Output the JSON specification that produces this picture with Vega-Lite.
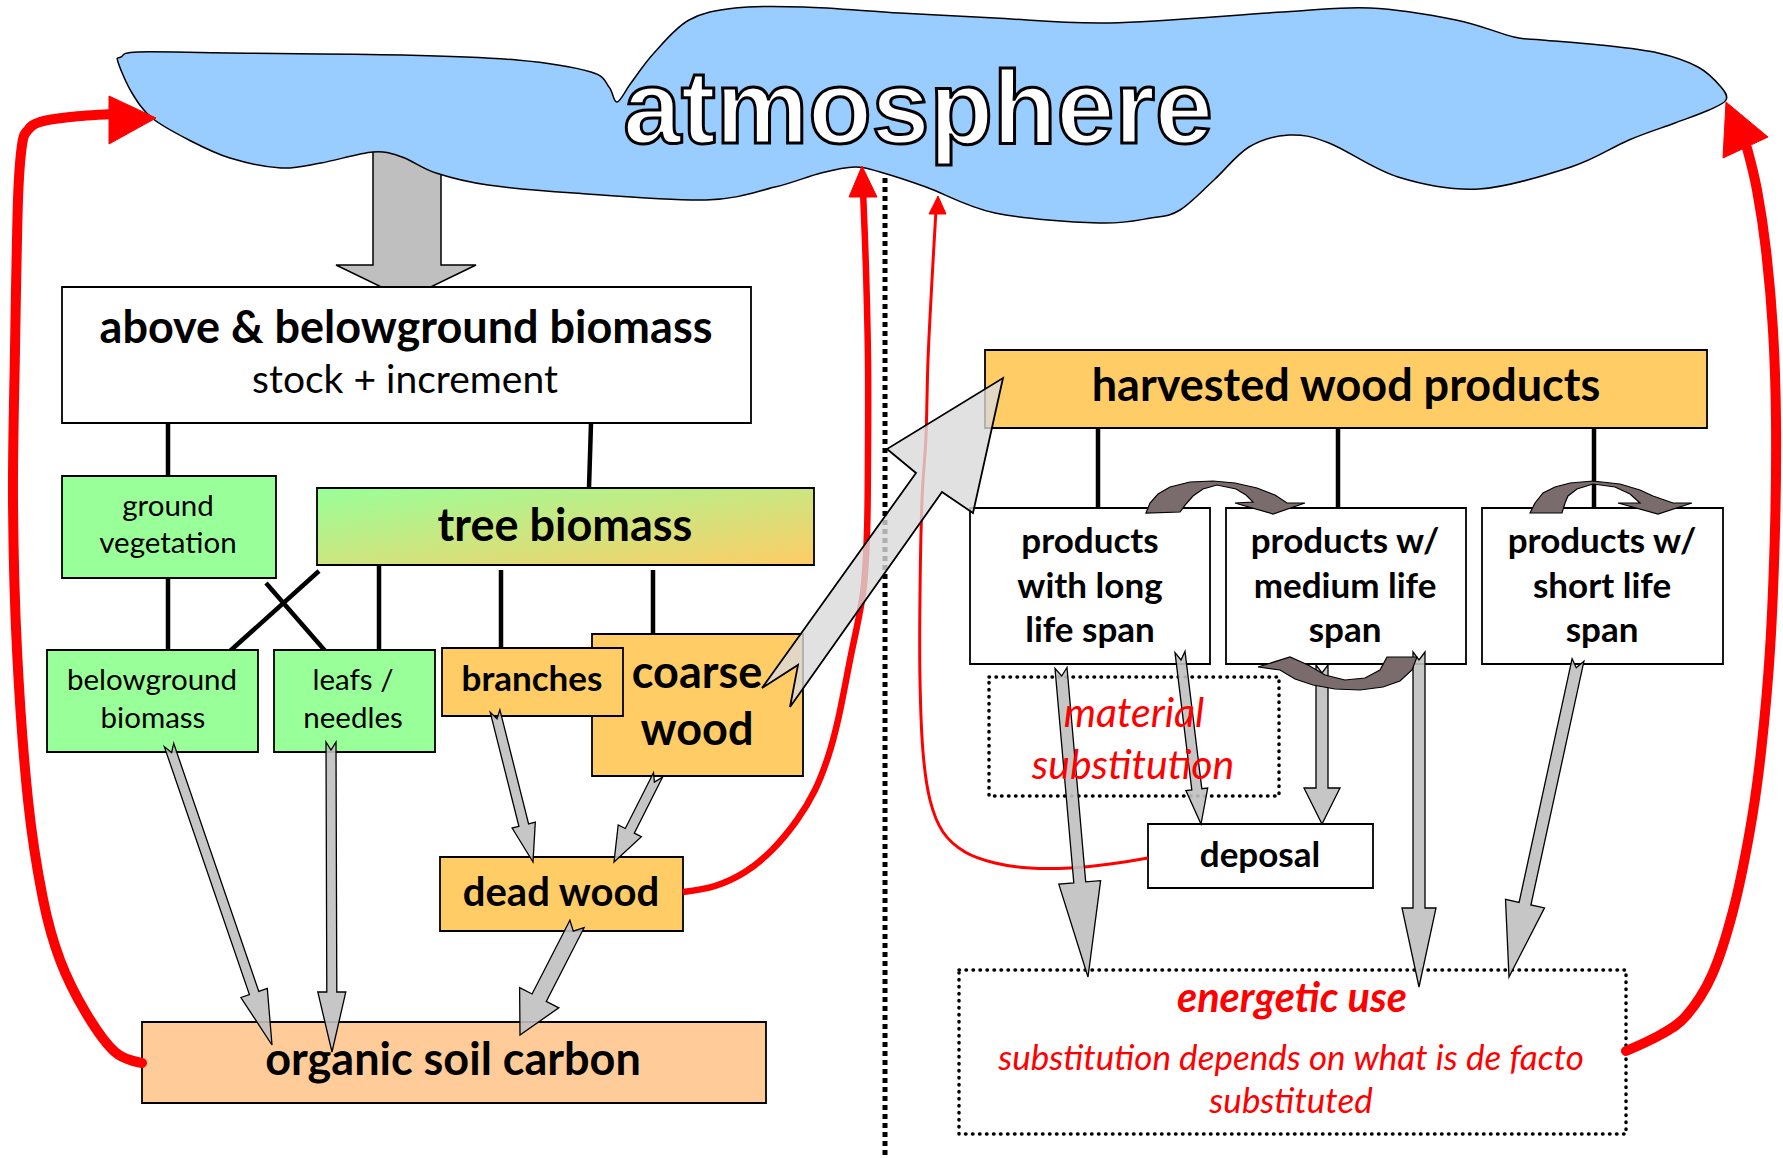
{
  "$schema": "https://vega.github.io/schema/vega-lite/v6.json",
  "width": 1783,
  "height": 1158,
  "autosize": "none",
  "padding": 0,
  "background": "white",
  "config": {"view": {"stroke": null}},
  "datasets": {
    "shapes": [
      {"id":"cloud","kind":"cloud","o":1,"x":118,"y":62},{"id":"cloud","kind":"cloud","o":2,"x":121,"y":57},{"id":"cloud","kind":"cloud","o":3,"x":138,"y":52},{"id":"cloud","kind":"cloud","o":4,"x":230,"y":53},{"id":"cloud","kind":"cloud","o":5,"x":402,"y":55},{"id":"cloud","kind":"cloud","o":6,"x":517,"y":60},{"id":"cloud","kind":"cloud","o":7,"x":591,"y":72},{"id":"cloud","kind":"cloud","o":8,"x":609,"y":87},{"id":"cloud","kind":"cloud","o":9,"x":617,"y":102},{"id":"cloud","kind":"cloud","o":10,"x":631,"y":83},{"id":"cloud","kind":"cloud","o":11,"x":654,"y":53},{"id":"cloud","kind":"cloud","o":12,"x":689,"y":20},{"id":"cloud","kind":"cloud","o":13,"x":735,"y":8},{"id":"cloud","kind":"cloud","o":14,"x":804,"y":7},{"id":"cloud","kind":"cloud","o":15,"x":900,"y":13},{"id":"cloud","kind":"cloud","o":16,"x":995,"y":18},{"id":"cloud","kind":"cloud","o":17,"x":1110,"y":23},{"id":"cloud","kind":"cloud","o":18,"x":1283,"y":12},{"id":"cloud","kind":"cloud","o":19,"x":1370,"y":8},{"id":"cloud","kind":"cloud","o":20,"x":1456,"y":20},{"id":"cloud","kind":"cloud","o":21,"x":1514,"y":37},{"id":"cloud","kind":"cloud","o":22,"x":1542,"y":40},{"id":"cloud","kind":"cloud","o":23,"x":1600,"y":45},{"id":"cloud","kind":"cloud","o":24,"x":1658,"y":53},{"id":"cloud","kind":"cloud","o":25,"x":1698,"y":67},{"id":"cloud","kind":"cloud","o":26,"x":1721,"y":87},{"id":"cloud","kind":"cloud","o":27,"x":1726,"y":100},{"id":"cloud","kind":"cloud","o":28,"x":1709,"y":110},{"id":"cloud","kind":"cloud","o":29,"x":1675,"y":123},{"id":"cloud","kind":"cloud","o":30,"x":1629,"y":140},{"id":"cloud","kind":"cloud","o":31,"x":1571,"y":167},{"id":"cloud","kind":"cloud","o":32,"x":1479,"y":189},{"id":"cloud","kind":"cloud","o":33,"x":1398,"y":177},{"id":"cloud","kind":"cloud","o":34,"x":1329,"y":143},{"id":"cloud","kind":"cloud","o":35,"x":1289,"y":135},{"id":"cloud","kind":"cloud","o":36,"x":1249,"y":147},{"id":"cloud","kind":"cloud","o":37,"x":1214,"y":180},{"id":"cloud","kind":"cloud","o":38,"x":1180,"y":210},{"id":"cloud","kind":"cloud","o":39,"x":1151,"y":218},{"id":"cloud","kind":"cloud","o":40,"x":1099,"y":223},{"id":"cloud","kind":"cloud","o":41,"x":995,"y":213},{"id":"cloud","kind":"cloud","o":42,"x":926,"y":187},{"id":"cloud","kind":"cloud","o":43,"x":880,"y":172},{"id":"cloud","kind":"cloud","o":44,"x":855,"y":167},{"id":"cloud","kind":"cloud","o":45,"x":821,"y":173},{"id":"cloud","kind":"cloud","o":46,"x":775,"y":187},{"id":"cloud","kind":"cloud","o":47,"x":706,"y":200},{"id":"cloud","kind":"cloud","o":48,"x":574,"y":193},{"id":"cloud","kind":"cloud","o":49,"x":488,"y":185},{"id":"cloud","kind":"cloud","o":50,"x":436,"y":173},{"id":"cloud","kind":"cloud","o":51,"x":402,"y":157},{"id":"cloud","kind":"cloud","o":52,"x":373,"y":152},{"id":"cloud","kind":"cloud","o":53,"x":321,"y":163},{"id":"cloud","kind":"cloud","o":54,"x":281,"y":168},{"id":"cloud","kind":"cloud","o":55,"x":230,"y":158},{"id":"cloud","kind":"cloud","o":56,"x":189,"y":140},{"id":"cloud","kind":"cloud","o":57,"x":152,"y":118},{"id":"cloud","kind":"cloud","o":58,"x":132,"y":93},

      {"id":"down","kind":"down","o":1,"x":373,"y":140},{"id":"down","kind":"down","o":2,"x":441,"y":140},{"id":"down","kind":"down","o":3,"x":441,"y":265},{"id":"down","kind":"down","o":4,"x":476,"y":265},{"id":"down","kind":"down","o":5,"x":406,"y":299},{"id":"down","kind":"down","o":6,"x":336,"y":265},{"id":"down","kind":"down","o":7,"x":373,"y":265},

      {"id":"a1","kind":"gray","o":1,"x":164.3,"y":746.6},{"id":"a1","kind":"gray","o":2,"x":249.4,"y":994.6},{"id":"a1","kind":"gray","o":3,"x":240.9,"y":997.5},{"id":"a1","kind":"gray","o":4,"x":272,"y":1045},{"id":"a1","kind":"gray","o":5,"x":267.3,"y":988.5},{"id":"a1","kind":"gray","o":6,"x":258.8,"y":991.4},{"id":"a1","kind":"gray","o":7,"x":173.7,"y":743.4},{"id":"a1","kind":"gray","o":8,"x":171.6,"y":752.6},
      {"id":"a2","kind":"gray","o":1,"x":326,"y":742},{"id":"a2","kind":"gray","o":2,"x":326.8,"y":992},{"id":"a2","kind":"gray","o":3,"x":317.8,"y":992},{"id":"a2","kind":"gray","o":4,"x":332,"y":1052},{"id":"a2","kind":"gray","o":5,"x":345.8,"y":992},{"id":"a2","kind":"gray","o":6,"x":336.8,"y":992},{"id":"a2","kind":"gray","o":7,"x":336,"y":742},{"id":"a2","kind":"gray","o":8,"x":331,"y":750},
      {"id":"a3","kind":"gray","o":1,"x":490.2,"y":712.2},{"id":"a3","kind":"gray","o":2,"x":518.9,"y":826.3},{"id":"a3","kind":"gray","o":3,"x":512.1,"y":828},{"id":"a3","kind":"gray","o":4,"x":533,"y":862},{"id":"a3","kind":"gray","o":5,"x":535.3,"y":822.2},{"id":"a3","kind":"gray","o":6,"x":528.6,"y":823.9},{"id":"a3","kind":"gray","o":7,"x":499.9,"y":709.8},{"id":"a3","kind":"gray","o":8,"x":497,"y":718.8},
      {"id":"a4","kind":"gray","o":1,"x":653.5,"y":772.7},{"id":"a4","kind":"gray","o":2,"x":625.3,"y":828.5},{"id":"a4","kind":"gray","o":3,"x":618.2,"y":824.9},{"id":"a4","kind":"gray","o":4,"x":614,"y":862},{"id":"a4","kind":"gray","o":5,"x":641.4,"y":836.7},{"id":"a4","kind":"gray","o":6,"x":634.3,"y":833.1},{"id":"a4","kind":"gray","o":7,"x":662.5,"y":777.3},{"id":"a4","kind":"gray","o":8,"x":654.4,"y":782.1},
      {"id":"a5","kind":"gray","o":1,"x":569.9,"y":920.3},{"id":"a5","kind":"gray","o":2,"x":532.1,"y":994},{"id":"a5","kind":"gray","o":3,"x":519.6,"y":987.6},{"id":"a5","kind":"gray","o":4,"x":520,"y":1035},{"id":"a5","kind":"gray","o":5,"x":558.8,"y":1007.8},{"id":"a5","kind":"gray","o":6,"x":546.3,"y":1001.4},{"id":"a5","kind":"gray","o":7,"x":584.1,"y":927.7},{"id":"a5","kind":"gray","o":8,"x":573.3,"y":931.1},
      {"id":"a6","kind":"gray","o":1,"x":1055,"y":668.5},{"id":"a6","kind":"gray","o":2,"x":1073.8,"y":882.9},{"id":"a6","kind":"gray","o":3,"x":1058.8,"y":884.2},{"id":"a6","kind":"gray","o":4,"x":1088,"y":977},{"id":"a6","kind":"gray","o":5,"x":1100.6,"y":880.6},{"id":"a6","kind":"gray","o":6,"x":1085.7,"y":881.9},{"id":"a6","kind":"gray","o":7,"x":1067,"y":667.5},{"id":"a6","kind":"gray","o":8,"x":1061.7,"y":676},
      {"id":"a7","kind":"gray","o":1,"x":1175,"y":652.6},{"id":"a7","kind":"gray","o":2,"x":1191.8,"y":789.9},{"id":"a7","kind":"gray","o":3,"x":1185.9,"y":790.6},{"id":"a7","kind":"gray","o":4,"x":1201,"y":824},{"id":"a7","kind":"gray","o":5,"x":1207.7,"y":788},{"id":"a7","kind":"gray","o":6,"x":1201.8,"y":788.7},{"id":"a7","kind":"gray","o":7,"x":1185,"y":651.4},{"id":"a7","kind":"gray","o":8,"x":1181,"y":660},
      {"id":"a8","kind":"gray","o":1,"x":1316,"y":665},{"id":"a8","kind":"gray","o":2,"x":1316,"y":788},{"id":"a8","kind":"gray","o":3,"x":1304,"y":788},{"id":"a8","kind":"gray","o":4,"x":1322,"y":824},{"id":"a8","kind":"gray","o":5,"x":1340,"y":788},{"id":"a8","kind":"gray","o":6,"x":1328,"y":788},{"id":"a8","kind":"gray","o":7,"x":1328,"y":665},{"id":"a8","kind":"gray","o":8,"x":1322,"y":673},
      {"id":"a9","kind":"gray","o":1,"x":1413,"y":652},{"id":"a9","kind":"gray","o":2,"x":1413,"y":908},{"id":"a9","kind":"gray","o":3,"x":1402,"y":908},{"id":"a9","kind":"gray","o":4,"x":1419,"y":987},{"id":"a9","kind":"gray","o":5,"x":1436,"y":908},{"id":"a9","kind":"gray","o":6,"x":1425,"y":908},{"id":"a9","kind":"gray","o":7,"x":1425,"y":652},{"id":"a9","kind":"gray","o":8,"x":1419,"y":660},
      {"id":"a10","kind":"gray","o":1,"x":1572.1,"y":658.7},{"id":"a10","kind":"gray","o":2,"x":1519.1,"y":902.4},{"id":"a10","kind":"gray","o":3,"x":1505.5,"y":899.4},{"id":"a10","kind":"gray","o":4,"x":1509,"y":977},{"id":"a10","kind":"gray","o":5,"x":1544.5,"y":907.9},{"id":"a10","kind":"gray","o":6,"x":1530.9,"y":905},{"id":"a10","kind":"gray","o":7,"x":1583.9,"y":661.3},{"id":"a10","kind":"gray","o":8,"x":1576.3,"y":667.8},

      {"id":"big","kind":"big","o":1,"x":762,"y":688},{"id":"big","kind":"big","o":2,"x":916,"y":473},{"id":"big","kind":"big","o":3,"x":887,"y":449},{"id":"big","kind":"big","o":4,"x":1003,"y":378},{"id":"big","kind":"big","o":5,"x":973,"y":513},{"id":"big","kind":"big","o":6,"x":942,"y":492},{"id":"big","kind":"big","o":7,"x":790,"y":707},{"id":"big","kind":"big","o":8,"x":798,"y":665},

      {"id":"c1","kind":"curve","o":1,"x":1146,"y":513},{"id":"c1","kind":"curve","o":2,"x":1150,"y":503},{"id":"c1","kind":"curve","o":3,"x":1158,"y":494},{"id":"c1","kind":"curve","o":4,"x":1170,"y":487},{"id":"c1","kind":"curve","o":5,"x":1190,"y":482},{"id":"c1","kind":"curve","o":6,"x":1213,"y":481},{"id":"c1","kind":"curve","o":7,"x":1235,"y":483},{"id":"c1","kind":"curve","o":8,"x":1257,"y":488},{"id":"c1","kind":"curve","o":9,"x":1275,"y":495},{"id":"c1","kind":"curve","o":10,"x":1287,"y":503},{"id":"c1","kind":"curve","o":11,"x":1305,"y":503},{"id":"c1","kind":"curve","o":12,"x":1273,"y":514},{"id":"c1","kind":"curve","o":13,"x":1235,"y":503},{"id":"c1","kind":"curve","o":14,"x":1253,"y":502},{"id":"c1","kind":"curve","o":15,"x":1246,"y":495},{"id":"c1","kind":"curve","o":16,"x":1236,"y":489},{"id":"c1","kind":"curve","o":17,"x":1217,"y":485},{"id":"c1","kind":"curve","o":18,"x":1203,"y":489},{"id":"c1","kind":"curve","o":19,"x":1193,"y":496},{"id":"c1","kind":"curve","o":20,"x":1186,"y":504},{"id":"c1","kind":"curve","o":21,"x":1180,"y":512},
      {"id":"c2","kind":"curve","o":1,"x":1530,"y":513},{"id":"c2","kind":"curve","o":2,"x":1535,"y":503},{"id":"c2","kind":"curve","o":3,"x":1543,"y":493},{"id":"c2","kind":"curve","o":4,"x":1555,"y":487},{"id":"c2","kind":"curve","o":5,"x":1570,"y":483},{"id":"c2","kind":"curve","o":6,"x":1593,"y":481},{"id":"c2","kind":"curve","o":7,"x":1620,"y":484},{"id":"c2","kind":"curve","o":8,"x":1640,"y":490},{"id":"c2","kind":"curve","o":9,"x":1653,"y":496},{"id":"c2","kind":"curve","o":10,"x":1673,"y":503},{"id":"c2","kind":"curve","o":11,"x":1692,"y":503},{"id":"c2","kind":"curve","o":12,"x":1658,"y":514},{"id":"c2","kind":"curve","o":13,"x":1618,"y":503},{"id":"c2","kind":"curve","o":14,"x":1640,"y":503},{"id":"c2","kind":"curve","o":15,"x":1630,"y":494},{"id":"c2","kind":"curve","o":16,"x":1615,"y":487},{"id":"c2","kind":"curve","o":17,"x":1593,"y":484},{"id":"c2","kind":"curve","o":18,"x":1577,"y":489},{"id":"c2","kind":"curve","o":19,"x":1568,"y":496},{"id":"c2","kind":"curve","o":20,"x":1565,"y":503},{"id":"c2","kind":"curve","o":21,"x":1562,"y":513},
      {"id":"c3","kind":"curve","o":1,"x":1417,"y":657},{"id":"c3","kind":"curve","o":2,"x":1412,"y":670},{"id":"c3","kind":"curve","o":3,"x":1400,"y":681},{"id":"c3","kind":"curve","o":4,"x":1383,"y":687},{"id":"c3","kind":"curve","o":5,"x":1360,"y":690},{"id":"c3","kind":"curve","o":6,"x":1335,"y":689},{"id":"c3","kind":"curve","o":7,"x":1313,"y":685},{"id":"c3","kind":"curve","o":8,"x":1295,"y":679},{"id":"c3","kind":"curve","o":9,"x":1280,"y":670},{"id":"c3","kind":"curve","o":10,"x":1258,"y":667},{"id":"c3","kind":"curve","o":11,"x":1290,"y":657},{"id":"c3","kind":"curve","o":12,"x":1308,"y":665},{"id":"c3","kind":"curve","o":13,"x":1325,"y":675},{"id":"c3","kind":"curve","o":14,"x":1345,"y":680},{"id":"c3","kind":"curve","o":15,"x":1365,"y":678},{"id":"c3","kind":"curve","o":16,"x":1380,"y":670},{"id":"c3","kind":"curve","o":17,"x":1387,"y":657},

      {"id":"LH","kind":"redhead","o":1,"x":109,"y":96},{"id":"LH","kind":"redhead","o":2,"x":156,"y":118},{"id":"LH","kind":"redhead","o":3,"x":109,"y":144},
      {"id":"RH","kind":"redhead","o":1,"x":1726,"y":102},{"id":"RH","kind":"redhead","o":2,"x":1768,"y":137},{"id":"RH","kind":"redhead","o":3,"x":1723,"y":158},
      {"id":"MH","kind":"redhead","o":1,"x":862,"y":166},{"id":"MH","kind":"redhead","o":2,"x":877,"y":197},{"id":"MH","kind":"redhead","o":3,"x":849,"y":197},
      {"id":"TH","kind":"redhead","o":1,"x":938,"y":196},{"id":"TH","kind":"redhead","o":2,"x":946,"y":214},{"id":"TH","kind":"redhead","o":3,"x":929,"y":214}
    ],
    "red": [
      {"id":"L","o":1,"x":142,"y":1063},{"id":"L","o":2,"x":115,"y":1052},{"id":"L","o":3,"x":86,"y":1013},{"id":"L","o":4,"x":60,"y":960},{"id":"L","o":5,"x":43,"y":899},{"id":"L","o":6,"x":28,"y":800},{"id":"L","o":7,"x":17,"y":650},{"id":"L","o":8,"x":13,"y":500},{"id":"L","o":9,"x":15,"y":350},{"id":"L","o":10,"x":18,"y":200},{"id":"L","o":11,"x":22,"y":145},{"id":"L","o":12,"x":28,"y":130},{"id":"L","o":13,"x":40,"y":122},{"id":"L","o":14,"x":70,"y":117},{"id":"L","o":15,"x":112,"y":114},
      {"id":"R","o":1,"x":1626,"y":1051},{"id":"R","o":2,"x":1660,"y":1035},{"id":"R","o":3,"x":1686,"y":1016},{"id":"R","o":4,"x":1712,"y":975},{"id":"R","o":5,"x":1733,"y":911},{"id":"R","o":6,"x":1750,"y":830},{"id":"R","o":7,"x":1761,"y":752},{"id":"R","o":8,"x":1770,"y":650},{"id":"R","o":9,"x":1775,"y":530},{"id":"R","o":10,"x":1776,"y":420},{"id":"R","o":11,"x":1773,"y":330},{"id":"R","o":12,"x":1766,"y":250},{"id":"R","o":13,"x":1757,"y":190},{"id":"R","o":14,"x":1747,"y":148},
      {"id":"M","o":1,"x":683,"y":892},{"id":"M","o":2,"x":715,"y":886},{"id":"M","o":3,"x":745,"y":872},{"id":"M","o":4,"x":772,"y":850},{"id":"M","o":5,"x":797,"y":820},{"id":"M","o":6,"x":815,"y":790},{"id":"M","o":7,"x":828,"y":757},{"id":"M","o":8,"x":838,"y":720},{"id":"M","o":9,"x":850,"y":660},{"id":"M","o":10,"x":863,"y":593},{"id":"M","o":11,"x":867,"y":533},{"id":"M","o":12,"x":868,"y":450},{"id":"M","o":13,"x":868,"y":360},{"id":"M","o":14,"x":866,"y":270},{"id":"M","o":15,"x":863,"y":190},
      {"id":"T","o":1,"x":1148,"y":858},{"id":"T","o":2,"x":1110,"y":864},{"id":"T","o":3,"x":1070,"y":868},{"id":"T","o":4,"x":1030,"y":868},{"id":"T","o":5,"x":995,"y":863},{"id":"T","o":6,"x":965,"y":852},{"id":"T","o":7,"x":943,"y":832},{"id":"T","o":8,"x":930,"y":800},{"id":"T","o":9,"x":923,"y":752},{"id":"T","o":10,"x":920,"y":680},{"id":"T","o":11,"x":920,"y":594},{"id":"T","o":12,"x":922,"y":500},{"id":"T","o":13,"x":926,"y":436},{"id":"T","o":14,"x":928,"y":360},{"id":"T","o":15,"x":932,"y":280},{"id":"T","o":16,"x":936,"y":210}
    ],
    "boxes": [
      {"name":"above","kind":"white","x":62,"x2":751,"y":287,"y2":423},
      {"name":"ground","kind":"green","x":62,"x2":276,"y":476,"y2":578},
      {"name":"below","kind":"green","x":47,"x2":258,"y":650,"y2":752},
      {"name":"leafs","kind":"green","x":274,"x2":435,"y":650,"y2":752},
      {"name":"coarse","kind":"orange","x":592,"x2":803,"y":634,"y2":776},
      {"name":"branches","kind":"orange","x":442,"x2":623,"y":648,"y2":716},
      {"name":"dead","kind":"orange","x":440,"x2":683,"y":857,"y2":931},
      {"name":"soil","kind":"soil","x":142,"x2":766,"y":1022,"y2":1103},
      {"name":"hwp","kind":"orange","x":985,"x2":1707,"y":350,"y2":428},
      {"name":"long","kind":"white","x":970,"x2":1210,"y":508,"y2":664},
      {"name":"medium","kind":"white","x":1226,"x2":1466,"y":508,"y2":664},
      {"name":"short","kind":"white","x":1482,"x2":1723,"y":508,"y2":664},
      {"name":"deposal","kind":"white","x":1148,"x2":1373,"y":824,"y2":888}
    ],
    "dotted": [
      {"name":"material","x":989,"x2":1279,"y":677,"y2":796},
      {"name":"energetic","x":959,"x2":1626,"y":970,"y2":1134}
    ],
    "rules": [
      {"x":168,"y":423,"x2":168,"y2":476},
      {"x":591,"y":423,"x2":589,"y2":488},
      {"x":168,"y":578,"x2":168,"y2":650},
      {"x":319,"y":571,"x2":230,"y2":651},
      {"x":266,"y":583,"x2":327,"y2":653},
      {"x":379,"y":565,"x2":379,"y2":650},
      {"x":501,"y":570,"x2":501,"y2":648},
      {"x":653,"y":570,"x2":653,"y2":634},
      {"x":1098,"y":428,"x2":1098,"y2":508},
      {"x":1338,"y":428,"x2":1338,"y2":508},
      {"x":1594,"y":428,"x2":1594,"y2":508}
    ],
    "divider": [
      {"x":885,"y":178,"x2":885,"y2":1158}
    ],
    "texts": [
      {"t":"atmosphere","role":"atm","x":918,"y":143},
      {"t":"above & belowground biomass","role":"b48","x":406,"y":343},
      {"t":"tree biomass","role":"b48","x":565,"y":541},
      {"t":"coarse","role":"b48","x":697,"y":688},
      {"t":"wood","role":"b48","x":697,"y":745},
      {"t":"organic soil carbon","role":"b48","x":453,"y":1075},
      {"t":"harvested wood products","role":"b48","x":1346,"y":401},
      {"t":"stock + increment","role":"r42","x":405,"y":393},
      {"t":"ground","role":"r32","x":168,"y":516},
      {"t":"vegetation","role":"r32","x":168,"y":553},
      {"t":"belowground","role":"r32","x":152,"y":690},
      {"t":"biomass","role":"r32","x":153,"y":728},
      {"t":"leafs /","role":"r32","x":353,"y":690},
      {"t":"needles","role":"r32","x":353,"y":728},
      {"t":"branches","role":"b37","x":532,"y":691},
      {"t":"deposal","role":"b37","x":1260,"y":867},
      {"t":"products","role":"b37","x":1090,"y":553},
      {"t":"with long","role":"b37","x":1090,"y":598},
      {"t":"life span","role":"b37","x":1090,"y":642},
      {"t":"products w/","role":"b37","x":1345,"y":553},
      {"t":"medium life","role":"b37","x":1345,"y":598},
      {"t":"span","role":"b37","x":1345,"y":642},
      {"t":"products w/","role":"b37","x":1602,"y":553},
      {"t":"short life","role":"b37","x":1602,"y":598},
      {"t":"span","role":"b37","x":1602,"y":642},
      {"t":"dead wood","role":"b42","x":561,"y":906},
      {"t":"material","role":"ri42","x":1134,"y":727},
      {"t":"substitution","role":"ri42","x":1133,"y":779},
      {"t":"energetic use","role":"rbi42","x":1292,"y":1012},
      {"t":"substitution depends on what is de facto","role":"ri37","x":1291,"y":1070},
      {"t":"substituted","role":"ri37","x":1291,"y":1113}
    ]
  },
  "encoding": {
    "x": {"field": "x", "type": "quantitative", "scale": {"domain": [0, 1783], "nice": false, "zero": false}, "axis": null},
    "y": {"field": "y", "type": "quantitative", "scale": {"domain": [0, 1158], "nice": false, "zero": false, "reverse": true}, "axis": null}
  },
  "layer": [
    {
      "data": {"name": "shapes"},
      "transform": [{"filter": "datum.kind === 'down'"}],
      "mark": {"type": "line", "interpolate": "linear-closed", "fill": "#bfbfbf", "stroke": "#000000", "strokeWidth": 1.5},
      "encoding": {"detail": {"field": "id"}, "order": {"field": "o", "type": "quantitative"}}
    },
    {
      "data": {"name": "shapes"},
      "transform": [{"filter": "datum.kind === 'cloud'"}],
      "mark": {"type": "line", "interpolate": "cardinal-closed", "fill": "#99ccff", "stroke": "#000000", "strokeWidth": 1.5},
      "encoding": {"detail": {"field": "id"}, "order": {"field": "o", "type": "quantitative"}}
    },
    {
      "data": {"name": "divider"},
      "mark": {"type": "rule", "stroke": "#000000", "strokeWidth": 5, "strokeDash": [5, 4]},
      "encoding": {"x2": {"field": "x2"}, "y2": {"field": "y2"}}
    },
    {
      "data": {"name": "rules"},
      "mark": {"type": "rule", "stroke": "#000000", "strokeWidth": 4.5},
      "encoding": {"x2": {"field": "x2"}, "y2": {"field": "y2"}}
    },
    {
      "data": {"name": "boxes"},
      "mark": {"type": "rect", "stroke": "#000000", "strokeWidth": 1.8},
      "encoding": {
        "x2": {"field": "x2"}, "y2": {"field": "y2"},
        "fill": {"field": "kind", "type": "nominal", "legend": null, "scale": {"domain": ["white", "green", "orange", "soil"], "range": ["#ffffff", "#99ff99", "#ffcc66", "#ffcc99"]}}
      }
    },
    {
      "data": {"values": [{"x": 317, "x2": 814, "y": 488, "y2": 565}]},
      "mark": {"type": "rect", "stroke": "#000000", "strokeWidth": 1.8, "fill": {"gradient": "linear", "x1": 0, "y1": 0, "x2": 1, "y2": 1, "stops": [{"offset": 0, "color": "#99ff99"}, {"offset": 1, "color": "#ffcc66"}]}},
      "encoding": {"x2": {"field": "x2"}, "y2": {"field": "y2"}}
    },
    {
      "data": {"name": "dotted"},
      "mark": {"type": "rect", "fill": null, "stroke": "#000000", "strokeWidth": 3.5, "strokeDash": [0.5, 6.5], "strokeCap": "round"},
      "encoding": {"x2": {"field": "x2"}, "y2": {"field": "y2"}}
    },
    {
      "data": {"name": "red"},
      "transform": [{"filter": "datum.id === 'L' || datum.id === 'R'"}],
      "mark": {"type": "line", "interpolate": "cardinal", "stroke": "#ff0000", "strokeWidth": 10, "strokeCap": "round"},
      "encoding": {"detail": {"field": "id"}, "order": {"field": "o", "type": "quantitative"}}
    },
    {
      "data": {"name": "red"},
      "transform": [{"filter": "datum.id === 'M'"}],
      "mark": {"type": "line", "interpolate": "cardinal", "stroke": "#ff0000", "strokeWidth": 6.5},
      "encoding": {"detail": {"field": "id"}, "order": {"field": "o", "type": "quantitative"}}
    },
    {
      "data": {"name": "red"},
      "transform": [{"filter": "datum.id === 'T'"}],
      "mark": {"type": "line", "interpolate": "cardinal", "stroke": "#ff0000", "strokeWidth": 3},
      "encoding": {"detail": {"field": "id"}, "order": {"field": "o", "type": "quantitative"}}
    },
    {
      "data": {"name": "shapes"},
      "transform": [{"filter": "datum.kind === 'redhead'"}],
      "mark": {"type": "line", "interpolate": "linear-closed", "fill": "#ff0000", "stroke": "#ff0000", "strokeWidth": 1},
      "encoding": {"detail": {"field": "id"}, "order": {"field": "o", "type": "quantitative"}}
    },
    {
      "data": {"name": "shapes"},
      "transform": [{"filter": "datum.kind === 'gray'"}],
      "mark": {"type": "line", "interpolate": "linear-closed", "fill": "#c0c0c0", "fillOpacity": 0.9, "stroke": "#000000", "strokeWidth": 1.3},
      "encoding": {"detail": {"field": "id"}, "order": {"field": "o", "type": "quantitative"}}
    },
    {
      "data": {"name": "shapes"},
      "transform": [{"filter": "datum.kind === 'big'"}],
      "mark": {"type": "line", "interpolate": "linear-closed", "fill": "#d9d9d9", "fillOpacity": 0.8, "stroke": "#000000", "strokeWidth": 1.8},
      "encoding": {"detail": {"field": "id"}, "order": {"field": "o", "type": "quantitative"}}
    },
    {
      "data": {"name": "shapes"},
      "transform": [{"filter": "datum.kind === 'curve'"}],
      "mark": {"type": "line", "interpolate": "linear-closed", "fill": "#7a6c6c", "stroke": "#000000", "strokeWidth": 1.2},
      "encoding": {"detail": {"field": "id"}, "order": {"field": "o", "type": "quantitative"}}
    },
    {
      "data": {"name": "texts"},
      "transform": [{"filter": "datum.role === 'atm'"}],
      "mark": {"type": "text", "font": "Liberation Sans", "fontWeight": "bold", "fontSize": 104, "fill": "#ffffff", "stroke": "#000000", "strokeWidth": 3, "align": "center", "baseline": "alphabetic"},
      "encoding": {"text": {"field": "t"}}
    },
    {
      "data": {"name": "texts"},
      "transform": [{"filter": "datum.role === 'b48'"}],
      "mark": {"type": "text", "font": "Lato", "fontWeight": "bold", "fontSize": 45, "fill": "#000000", "align": "center", "baseline": "alphabetic"},
      "encoding": {"text": {"field": "t"}}
    },
    {
      "data": {"name": "texts"},
      "transform": [{"filter": "datum.role === 'b42'"}],
      "mark": {"type": "text", "font": "Lato", "fontWeight": "bold", "fontSize": 40, "fill": "#000000", "align": "center", "baseline": "alphabetic"},
      "encoding": {"text": {"field": "t"}}
    },
    {
      "data": {"name": "texts"},
      "transform": [{"filter": "datum.role === 'b37'"}],
      "mark": {"type": "text", "font": "Lato", "fontWeight": "bold", "fontSize": 35, "fill": "#000000", "align": "center", "baseline": "alphabetic"},
      "encoding": {"text": {"field": "t"}}
    },
    {
      "data": {"name": "texts"},
      "transform": [{"filter": "datum.role === 'r42'"}],
      "mark": {"type": "text", "font": "Lato", "fontSize": 39, "fill": "#000000", "align": "center", "baseline": "alphabetic"},
      "encoding": {"text": {"field": "t"}}
    },
    {
      "data": {"name": "texts"},
      "transform": [{"filter": "datum.role === 'r32'"}],
      "mark": {"type": "text", "font": "Lato", "fontSize": 29.5, "fill": "#000000", "align": "center", "baseline": "alphabetic"},
      "encoding": {"text": {"field": "t"}}
    },
    {
      "data": {"name": "texts"},
      "transform": [{"filter": "datum.role === 'ri42'"}],
      "mark": {"type": "text", "font": "Lato", "fontStyle": "italic", "fontSize": 41, "fill": "#ff0000", "align": "center", "baseline": "alphabetic"},
      "encoding": {"text": {"field": "t"}}
    },
    {
      "data": {"name": "texts"},
      "transform": [{"filter": "datum.role === 'rbi42'"}],
      "mark": {"type": "text", "font": "Lato", "fontStyle": "italic", "fontWeight": "bold", "fontSize": 41.5, "fill": "#ff0000", "align": "center", "baseline": "alphabetic"},
      "encoding": {"text": {"field": "t"}}
    },
    {
      "data": {"name": "texts"},
      "transform": [{"filter": "datum.role === 'ri37'"}],
      "mark": {"type": "text", "font": "Lato", "fontStyle": "italic", "fontSize": 35, "fill": "#ff0000", "align": "center", "baseline": "alphabetic"},
      "encoding": {"text": {"field": "t"}}
    }
  ]
}
